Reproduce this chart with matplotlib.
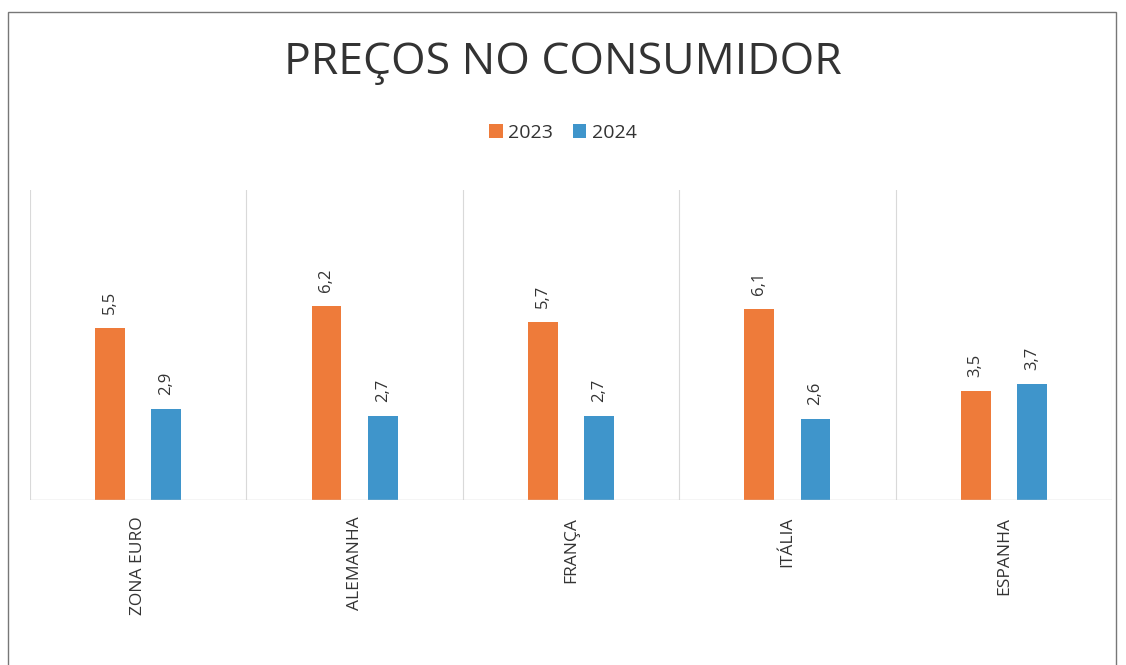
import numpy as np
import matplotlib.pyplot as plt
from matplotlib.patches import Rectangle

# Dados
categorias = ['ZONA EURO', 'ALEMANHA', 'FRANÇA', 'ITÁLIA', 'ESPANHA']
anos = ['2023', '2024']
valores_2023 = [5.5, 6.2, 5.7, 6.1, 3.5]
valores_2024 = [2.9, 2.7, 2.7, 2.6, 3.7]

cor_2023 = '#EE7B3A'
cor_2024 = '#3F95CB'

plt.rcParams['font.family'] = ['Open Sans', 'DejaVu Sans']

fig = plt.figure(figsize=(11.26, 6.65), dpi=100)
ax = fig.add_axes([0.0266, 0.248, 0.961, 0.466])

x = np.arange(len(categorias))
w = 0.138
off = 0.13
b1 = ax.bar(x - off, valores_2023, w, color=cor_2023, label=anos[0])
b2 = ax.bar(x + off, valores_2024, w, color=cor_2024, label=anos[1])

# Rotulos dos valores
for bars, vals in [(b1, valores_2023), (b2, valores_2024)]:
    for b, v in zip(bars, vals):
        ax.annotate(f'{v:.1f}'.replace('.', ','),
                    (b.get_x() + b.get_width() / 2, v),
                    xytext=(0, 10), textcoords='offset points',
                    rotation=90, ha='center', va='bottom',
                    fontsize=12, color='#333333')

ax.set_xlim(-0.5, len(categorias) - 0.5)
ax.set_ylim(0, 9.9)

# Separadores
for s in np.arange(-0.5, len(categorias), 1):
    ax.axvline(s, color='#d9d9d9', lw=0.8)
ax.axhline(0, color='#d0d0d0', lw=1)

for sp in ax.spines.values():
    sp.set_visible(False)
ax.set_yticks([])
ax.set_xticks(x)
ax.set_xticklabels(categorias, rotation=90, fontsize=12.5, color='#333333')
ax.tick_params(axis='x', length=0, pad=12)

fig.text(0.5, 0.905, 'PREÇOS NO CONSUMIDOR', ha='center', va='center',
         fontsize=32, color='#333333')
fig.legend(loc='center', bbox_to_anchor=(0.5, 0.80), ncol=2, frameon=False,
           fontsize=14, handlelength=0.7, handleheight=0.7, columnspacing=1.0,
           handletextpad=0.3, labelcolor='#333333')

fig.patches.append(Rectangle((0.007, -0.05), 0.984, 1.032, transform=fig.transFigure,
                             fill=False, edgecolor='#777777', lw=1))

fig.savefig('out.png', dpi=100, facecolor='white')
